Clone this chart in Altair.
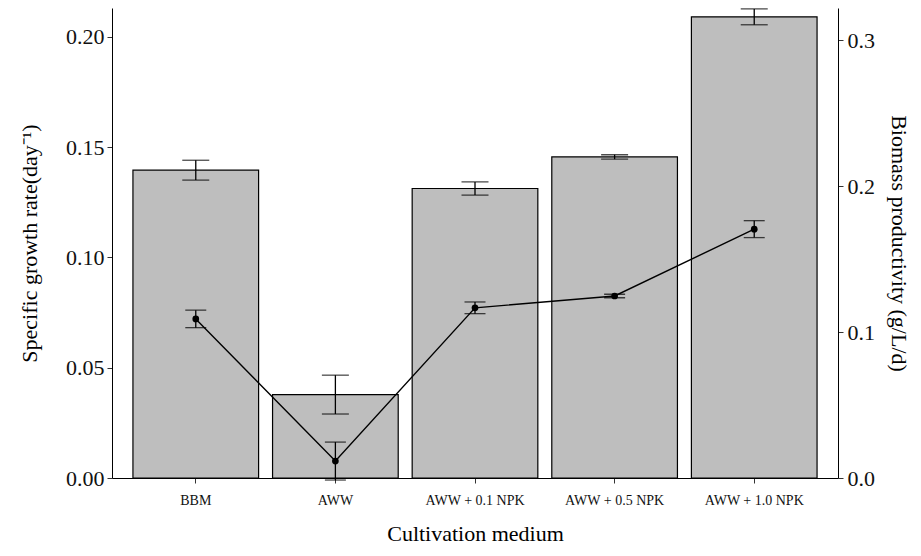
import altair as alt
import pandas as pd

media = ["BBM", "AWW", "AWW + 0.1 NPK", "AWW + 0.5 NPK", "AWW + 1.0 NPK"]
growth = [0.1395, 0.0378, 0.1312, 0.1455, 0.2090]
growth_err = [0.0045, 0.0088, 0.0030, 0.0010, 0.0036]
prod = [0.1090, 0.0116, 0.1166, 0.1247, 0.1705]
prod_err = [0.0060, 0.0130, 0.0040, 0.0012, 0.0058]

df = pd.DataFrame({
    "medium": media,
    "growth": growth,
    "g_lo": [g - e for g, e in zip(growth, growth_err)],
    "g_hi": [g + e for g, e in zip(growth, growth_err)],
    "prod": prod,
    "p_lo": [p - e for p, e in zip(prod, prod_err)],
    "p_hi": [p + e for p, e in zip(prod, prod_err)],
})

FONT = "Liberation Serif"
xenc = alt.X("medium:N", sort=media, title="Cultivation medium",
             scale=alt.Scale(paddingInner=0.1, paddingOuter=0.15),
             axis=alt.Axis(labelAngle=0, labelFontSize=14, titleFontSize=22,
                           labelColor="#111", titleColor="black", labelPadding=10,
                           titlePadding=16, tickSize=5, tickColor="#333",
                           domainColor="black", grid=False))

left_title = "Specific growth rate(day⁻¹)"
right_title = "Biomass productivity (g/L/d)"

lscale = alt.Scale(domain=[0, 0.213], nice=False, zero=False)
laxis = alt.Axis(values=[0, 0.05, 0.10, 0.15, 0.20], format=".2f", labelFontSize=22,
                 titleFontSize=22, labelColor="#111", titleColor="black", tickSize=5,
                 tickColor="#333", domainColor="black", grid=False, titlePadding=24,
                 labelPadding=3)
rscale = alt.Scale(domain=[0, 0.322], nice=False, zero=False)
raxis = alt.Axis(values=[0, 0.1, 0.2, 0.3], format=".1f", labelFontSize=22,
                 titleFontSize=22, labelColor="#111", titleColor="black", tickSize=5,
                 tickColor="#333", domainColor="black", grid=False, titlePadding=12,
                 labelPadding=4, orient="right")

base = alt.Chart(df)

bars = base.mark_bar(color="#BEBEBE", stroke="black", strokeWidth=1.2).encode(
    x=xenc, y=alt.Y("growth:Q", scale=lscale, axis=laxis, title=left_title))
g_rule = base.mark_rule(color="black", strokeWidth=1.3).encode(
    x=xenc, y=alt.Y("g_lo:Q", scale=lscale, axis=laxis, title=left_title), y2="g_hi:Q")
g_cap_lo = base.mark_tick(color="black", size=27, thickness=1.3).encode(
    x=xenc, y=alt.Y("g_lo:Q", scale=lscale, axis=laxis, title=left_title))
g_cap_hi = base.mark_tick(color="black", size=27, thickness=1.3).encode(
    x=xenc, y=alt.Y("g_hi:Q", scale=lscale, axis=laxis, title=left_title))
left = alt.layer(bars, g_rule, g_cap_lo, g_cap_hi)

line = base.mark_line(color="black", strokeWidth=1.4).encode(
    x=xenc, y=alt.Y("prod:Q", scale=rscale, axis=raxis, title=right_title))
pts = base.mark_circle(color="black", size=45, opacity=1).encode(
    x=xenc, y=alt.Y("prod:Q", scale=rscale, axis=raxis, title=right_title))
p_rule = base.mark_rule(color="black", strokeWidth=1.3).encode(
    x=xenc, y=alt.Y("p_lo:Q", scale=rscale, axis=raxis, title=right_title), y2="p_hi:Q")
p_cap_lo = base.mark_tick(color="black", size=21, thickness=1.3).encode(
    x=xenc, y=alt.Y("p_lo:Q", scale=rscale, axis=raxis, title=right_title))
p_cap_hi = base.mark_tick(color="black", size=21, thickness=1.3).encode(
    x=xenc, y=alt.Y("p_hi:Q", scale=rscale, axis=raxis, title=right_title))
right = alt.layer(line, p_rule, p_cap_lo, p_cap_hi, pts)

chart = alt.layer(left, right).resolve_scale(y="independent").properties(
    width=726, height=470,
    autosize=alt.AutoSizeParams(type="none"),
    padding={"left": 104, "top": 0, "right": 75, "bottom": 70},
).configure(font=FONT).configure_view(stroke=None).configure_axis(
    labelFont=FONT, titleFont=FONT, titleFontWeight="normal")

chart.save("out.html", embed_options={"renderer": "svg", "actions": False})
